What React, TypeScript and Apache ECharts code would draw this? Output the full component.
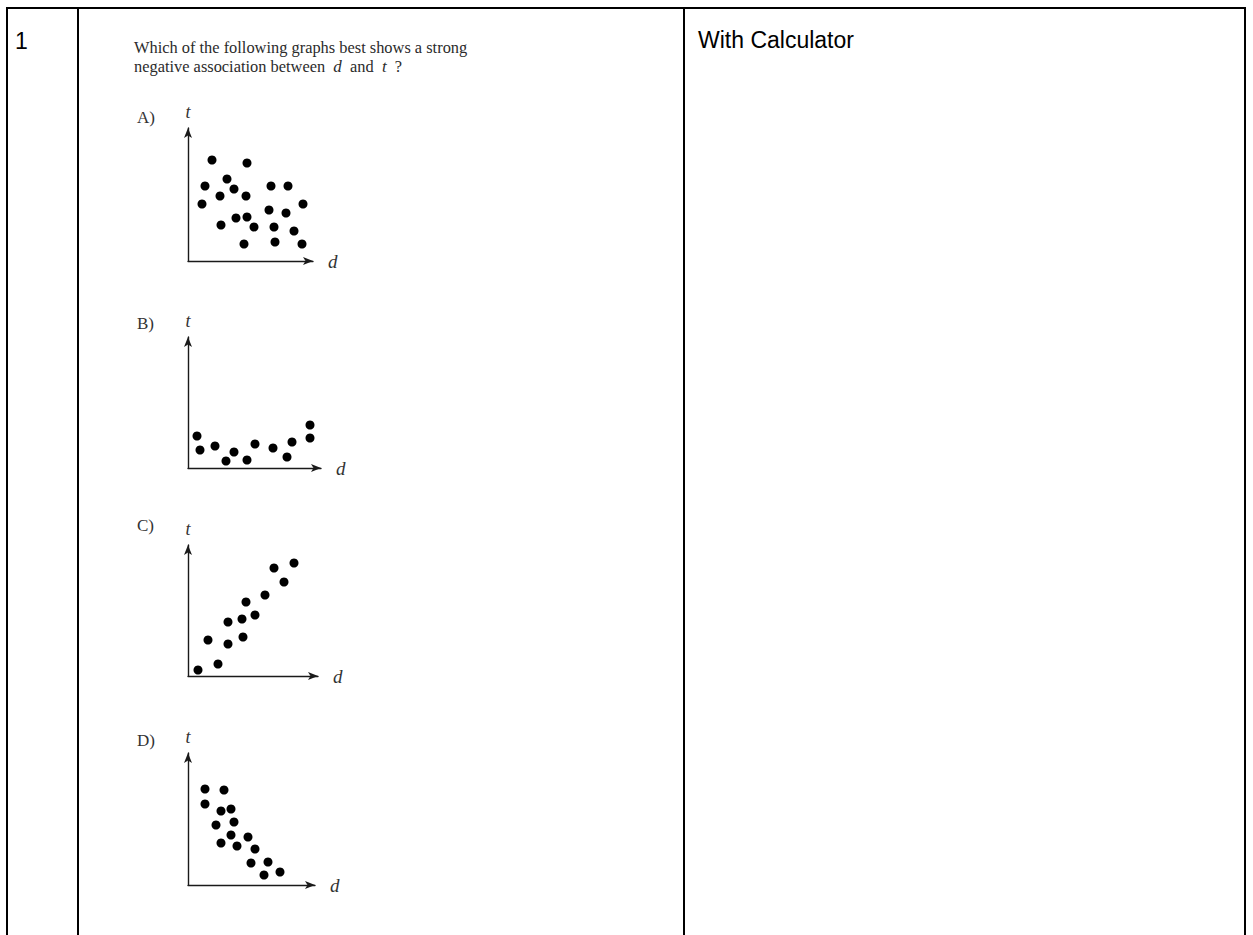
import React, { useEffect, useRef } from "react";
import * as echarts from "echarts";

// Scatter values (arbitrary units along d and t)
const plotA: number[][] = [
  [24, 101], [59, 98], [17, 75], [39, 82], [46, 72], [32, 65], [58, 65], [14, 57],
  [83, 75], [100, 75], [115, 57], [81, 51], [98, 48], [33, 36], [48, 43], [59, 44],
  [66, 34], [86, 34], [106, 30], [56, 17], [87, 19], [114, 17],
];
const plotB: number[][] = [
  [9, 32], [12, 18], [27, 22], [38, 7], [46, 16], [59, 8], [67, 24], [85, 20],
  [99, 11], [104, 26], [122, 43], [122, 30],
];
const plotC: number[][] = [
  [10, 6], [30, 12], [20, 36], [40, 32], [40, 54], [54, 57], [55, 39], [58, 74],
  [67, 61], [77, 81], [86, 108], [96, 94], [106, 113],
];
const plotD: number[][] = [
  [17, 96], [36, 95], [17, 81], [33, 74], [43, 76], [46, 63], [28, 60], [43, 50],
  [60, 48], [33, 42], [49, 39], [67, 36], [63, 22], [80, 23], [76, 10], [92, 13],
];
const optionLabels = ["A)", "B)", "C)", "D)"];
const questionLine1 = "Which of the following graphs best shows a strong";
const rowNumber = "1";
const calcNote = "With Calculator";

export default function App() {
  const ref = useRef<HTMLDivElement>(null);
  useEffect(() => {
    if (!ref.current) return;
    const chart = echarts.init(ref.current, null, { renderer: "svg" });
    const plots = [plotA, plotB, plotC, plotD];
    // axis extents (arrow tips lie 5px beyond)
    const frames = [
      { left: 188, top: 128, w: 125, h: 133 },
      { left: 188, top: 337, w: 133, h: 131 },
      { left: 188, top: 545, w: 130, h: 131 },
      { left: 188, top: 753, w: 127, h: 132 },
    ];
    const serif = "'Liberation Serif', 'Times New Roman', serif";
    const axisLine = {
      show: true,
      symbol: ["none", "arrow"],
      symbolSize: [6, 10],
      symbolOffset: [0, 0],
      lineStyle: { color: "#1a1a1a", width: 1.4 },
    };
    const grids = frames.map((f) => ({ left: f.left, top: f.top, width: f.w, height: f.h }));
    const xAxes = frames.map((f, i) => ({
      type: "value",
      gridIndex: i,
      min: 0,
      max: f.w,
      axisLine,
      axisTick: { show: false },
      axisLabel: { show: false },
      splitLine: { show: false },
      name: "d",
      nameLocation: "end",
      nameGap: 15,
      nameTextStyle: { fontFamily: serif, fontStyle: "italic", fontSize: 19, color: "#333" },
    }));
    const yAxes = frames.map((f, i) => ({
      type: "value",
      gridIndex: i,
      min: 0,
      max: f.h,
      axisLine,
      axisTick: { show: false },
      axisLabel: { show: false },
      splitLine: { show: false },
      name: "t",
      nameLocation: "end",
      nameGap: 7,
      nameTextStyle: { fontFamily: serif, fontStyle: "italic", fontSize: 18, color: "#333" },
    }));
    const series = plots.map((p, i) => ({
      type: "scatter",
      xAxisIndex: i,
      yAxisIndex: i,
      data: p,
      symbolSize: 9,
      itemStyle: { color: "#000", opacity: 1 },
    }));
    const line = (x1: number, y1: number, x2: number, y2: number) => ({
      type: "line",
      shape: { x1, y1, x2, y2 },
      style: { stroke: "#000", lineWidth: 2 },
    });
    const labelY = [117, 323, 525, 740];
    const graphic: any[] = [
      line(6, 8, 1246, 8),
      line(7, 7, 7, 935),
      line(78, 7, 78, 935),
      line(684, 7, 684, 935),
      line(1245, 7, 1245, 935),
      {
        type: "text",
        x: 15,
        y: 41,
        style: { text: rowNumber, fontFamily: "Arial, 'Liberation Sans'", fontSize: 23, fill: "#000", verticalAlign: "middle" },
      },
      {
        type: "text",
        x: 698,
        y: 40,
        style: { text: calcNote, fontFamily: "Arial, 'Liberation Sans'", fontSize: 23, fill: "#000", verticalAlign: "middle" },
      },
      {
        type: "text",
        x: 134,
        y: 47,
        style: { text: questionLine1, fontFamily: serif, fontSize: 16.4, fill: "#2b2b2b", verticalAlign: "middle" },
      },
      {
        type: "text",
        x: 134,
        y: 66,
        style: {
          text: "negative association between  {i|d}  and  {i|t}  ?",
          fontFamily: serif,
          fontSize: 16.4,
          fill: "#2b2b2b",
          verticalAlign: "middle",
          rich: { i: { fontFamily: serif, fontStyle: "italic", fontSize: 17, fill: "#2b2b2b" } },
        },
      },
      ...optionLabels.map((t, i) => ({
        type: "text",
        x: 137,
        y: labelY[i],
        style: { text: t, fontFamily: serif, fontSize: 17, fill: "#333", verticalAlign: "middle" },
      })),
    ];
    chart.setOption({
      animation: false,
      backgroundColor: "#fff",
      grid: grids,
      xAxis: xAxes,
      yAxis: yAxes,
      series,
      graphic,
    });
    return () => chart.dispose();
  }, []);
  return <div ref={ref} style={{ position: "absolute", left: 0, top: 0, width: 1253, height: 935 }} />;
}
